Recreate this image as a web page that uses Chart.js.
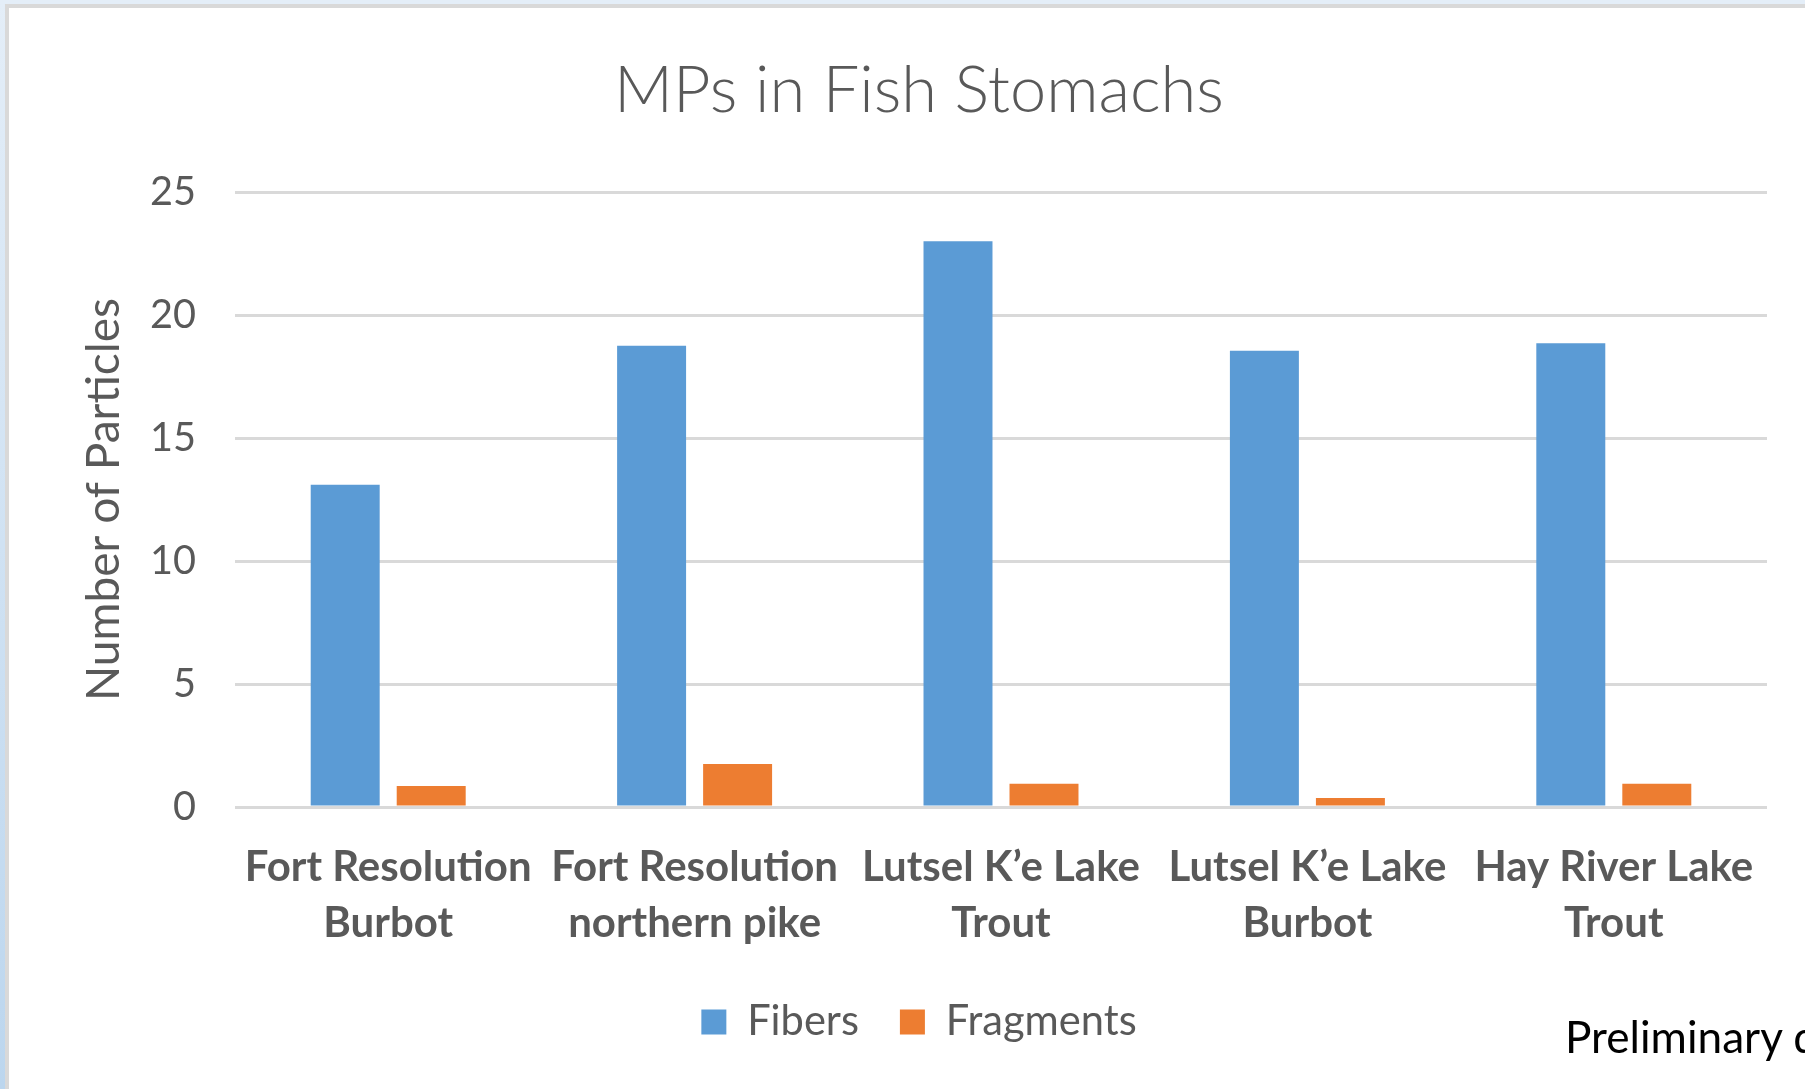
<!DOCTYPE html>
<html>
<head>
<meta charset="utf-8">
<title>MPs in Fish Stomachs</title>
<script src="https://cdn.jsdelivr.net/npm/chart.js@4.4.1/dist/chart.umd.min.js"></script>
<style>
    html, body { margin: 0; padding: 0; width: 1805px; height: 1089px; overflow: hidden; }
    body { position: relative; background: linear-gradient(#e4eef8, #bcd6ee); }
    #topStrip { position: absolute; left: 0; top: 0; width: 1805px; height: 4px; background: #e4eef8; }
    #frame { position: absolute; left: 5px; top: 4px; width: 1820px; height: 1100px; background: #fff;
             border-left: 4px solid #d9d9d9; border-top: 4px solid #d9d9d9; }
    #chartBox { position: absolute; left: 0; top: 0; width: 1805px; height: 1089px; }
    #note { position: absolute; left: 1565px; white-space: nowrap; color: #000; font-family: Lato, sans-serif; line-height: 1; }
</style>
</head>
<body>
<div id="topStrip"></div>
<div id="frame"></div>
<div id="chartBox"><canvas id="myChart" width="1805" height="1089"></canvas></div>
<div id="note">Preliminary data</div>
<script>
// chart values
const categories = [
    ["Fort Resolution", "Burbot"],
    ["Fort Resolution", "northern pike"],
    ["Lutsel K’e Lake", "Trout"],
    ["Lutsel K’e Lake", "Burbot"],
    ["Hay River Lake", "Trout"]
];
const fibers = [13.1, 18.75, 23.0, 18.55, 18.85];
const fragments = [0.85, 1.75, 0.95, 0.37, 0.95];
const yTicks = [0, 5, 10, 15, 20, 25];

function init() {
    const canvas = document.getElementById("myChart");
    const note = document.getElementById("note");
    const measureCtx = document.createElement("canvas").getContext("2d");

    // pick a font size so the text is as wide as in the picture
    function fitSize(text, weight, width) {
        measureCtx.font = `${weight} 100px Lato`;
        return 100 * width / measureCtx.measureText(text).width;
    }

    const titleSize = fitSize("MPs in Fish Stomachs", 300, 610);
    const tickSize = fitSize("25", 400, 46);
    const axisTitleSize = fitSize("Number of Particles", 400, 403);
    const labelSize = fitSize("Fort Resolution", 700, 287);
    const legendSize = fitSize("Fragments", 400, 191);
    const noteSize = fitSize("Preliminary", 400, 218);

    note.style.fontSize = noteSize + "px";
    note.style.top = (1053 - 0.887 * noteSize) + "px";

    const padLeft = 71;
    const titlePadTop = 90.6 - 0.6 * titleSize;
    const titlePadBottom = 192 - titlePadTop - 1.2 * titleSize;
    const legendBottom = 1032 + legendSize / 2;
    const legendHeight = legendSize + 41 + 10;

    Chart.defaults.font.family = "Lato, sans-serif";
    Chart.defaults.color = "#595959";

    new Chart(canvas, {
        type: "bar",
        data: {
            labels: categories,
            datasets: [
                { label: "Fibers", data: fibers, backgroundColor: "#5b9bd5",
                  barPercentage: 0.802, categoryPercentage: 0.5614 },
                { label: "Fragments", data: fragments, backgroundColor: "#ed7d31",
                  barPercentage: 0.802, categoryPercentage: 0.5614 }
            ]
        },
        options: {
            responsive: false,
            animation: false,
            layout: { padding: { left: padLeft, right: 38, top: 0, bottom: 1089 - legendBottom } },
            plugins: {
                title: {
                    display: true,
                    text: "MPs in Fish Stomachs",
                    color: "#595959",
                    font: { size: titleSize, weight: 300, lineHeight: 1.2 },
                    padding: { top: titlePadTop, bottom: titlePadBottom }
                },
                legend: {
                    position: "bottom",
                    labels: {
                        boxWidth: 25, boxHeight: 25, padding: 41,
                        color: "#595959",
                        font: { size: legendSize }
                    }
                },
                tooltip: { enabled: false }
            },
            scales: {
                x: {
                    grid: { display: false },
                    border: { display: false },
                    ticks: {
                        color: "#595959",
                        padding: 24,
                        maxRotation: 0,
                        autoSkip: false,
                        font: { size: labelSize, weight: "bold", lineHeight: 56 / labelSize }
                    },
                    afterFit: (scale) => { scale.height = legendBottom - legendHeight - 807; }
                },
                y: {
                    min: yTicks[0],
                    max: yTicks[yTicks.length - 1],
                    afterBuildTicks: (scale) => { scale.ticks = yTicks.map(v => ({ value: v })); },
                    grid: { color: "#d9d9d9", lineWidth: 3, drawTicks: false },
                    border: { display: false },
                    ticks: { color: "#595959", padding: 39, font: { size: tickSize } },
                    title: {
                        display: true,
                        text: "Number of Particles",
                        color: "#595959",
                        font: { size: axisTitleSize, lineHeight: 1.2 },
                        padding: { top: 104 - padLeft - 0.6 * axisTitleSize, bottom: 0 }
                    },
                    afterFit: (scale) => { scale.width = 235 - padLeft; }
                }
            }
        }
    });
}

document.addEventListener("DOMContentLoaded", init);
</script>
</body>
</html>
